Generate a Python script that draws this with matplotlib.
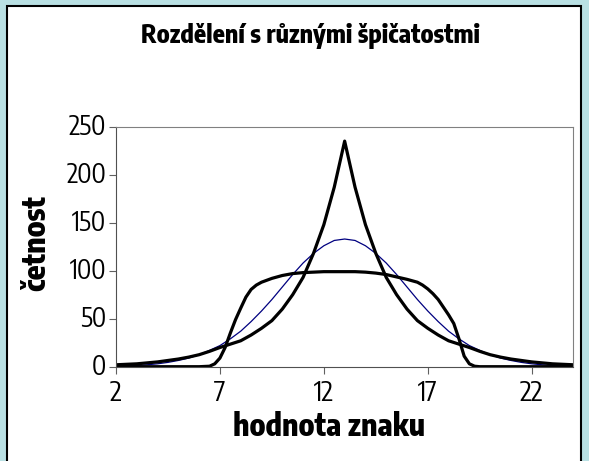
import numpy as np
import matplotlib
matplotlib.use('Agg')
import matplotlib.pyplot as plt
from matplotlib.patches import Rectangle

plt.rcParams['font.family'] = ['Liberation Sans Narrow', 'Encode Sans Condensed', 'DejaVu Sans']

# data
x_values = np.arange(2, 24.01, 0.5)
peaked = [2, 2.5, 3, 4, 5, 6.5, 8, 10, 12.5, 16, 20, 23.5, 27, 33, 40, 48, 60, 75, 93, 118, 148, 187,
          235,
          187, 148, 118, 93, 75, 60, 48, 40, 33, 27, 23.5, 20, 16, 12.5, 10, 8, 6.5, 5, 4, 3, 2.5, 2]
normal = [0.5, 0.8, 1.3, 2, 3, 4.5, 6.5, 9, 12.5, 17, 22, 29, 37, 47, 58, 70, 83, 96, 108, 118, 126, 131.5,
          133,
          131.5, 126, 118, 108, 96, 83, 70, 58, 47, 37, 29, 22, 17, 12.5, 9, 6.5, 4.5, 3, 2, 1.3, 0.8, 0.5]

# flat curve is read at finer steps where it bends
flat_x = [2, 4, 6, 6.5, 6.75, 7, 7.25, 7.5, 7.75, 8, 8.25, 8.5, 8.75, 9, 9.25, 9.5, 10, 10.5, 11,
          11.5, 12, 12.5, 13, 13.5, 14, 14.5, 15, 15.5, 16, 16.5, 16.75, 17, 17.25, 17.5, 17.75,
          18, 18.25, 18.5, 18.75, 19, 19.25, 19.5, 22, 24]
flat = [0, 0, 0, 0.5, 3, 9, 20, 35, 49, 61, 72.5, 80.5, 85, 88, 90, 92, 95, 97, 98,
        98.5, 99, 99, 99, 99, 98.5, 97.5, 96, 93.5, 91, 88, 85, 81, 76, 70, 62,
        54, 45, 29, 11, 3, 0.5, 0, 0, 0]

x_ticks = [2, 7, 12, 17, 22]
y_ticks = [0, 50, 100, 150, 200, 250]

fig = plt.figure(figsize=(5.89, 4.61), dpi=100)
fig.patch.set_facecolor('#b9e0e3')
fig.patches.append(Rectangle((7 / 589, -0.02), 574 / 589, 1 - 6 / 461 + 0.02,
                             transform=fig.transFigure, facecolor='white',
                             edgecolor='black', linewidth=1.5, zorder=-10))

ax = fig.add_axes([116 / 589, 1 - 366.7 / 461, (573.3 - 116) / 589, (366.7 - 126.7) / 461])
ax.set_facecolor('white')

ax.plot(x_values, normal, color='#000080', linewidth=0.9)
ax.plot(flat_x, flat, color='black', linewidth=2.3, solid_joinstyle='round')
ax.plot(x_values, peaked, color='black', linewidth=2.3, solid_joinstyle='round')

ax.set_xlim(2, 24)
ax.set_ylim(0, 250)
ax.set_xticks(x_ticks)
ax.set_yticks(y_ticks)
ax.tick_params(axis='x', direction='out', length=5, color='#606060', labelsize=20, pad=4)
ax.tick_params(axis='y', direction='out', length=5, color='#606060', labelsize=19, pad=2)
for lab in ax.get_yticklabels():
    lab.set_verticalalignment('center')

for side in ['top', 'right']:
    ax.spines[side].set_color('#808080')
for side in ['left', 'bottom']:
    ax.spines[side].set_color('#505050')

fig.text(0.528, 0.922, 'Rozdělení s různými špičatostmi', ha='center', va='center',
         fontsize=18, fontweight='heavy')
fig.text(0.559, 0.074, 'hodnota znaku', ha='center', va='center',
         fontsize=22, fontweight='heavy')
fig.text(0.061, 0.473, 'četnost', ha='center', va='center', rotation=90,
         fontsize=22, fontweight='heavy')

fig.savefig('out.png', dpi=100, facecolor=fig.get_facecolor())
